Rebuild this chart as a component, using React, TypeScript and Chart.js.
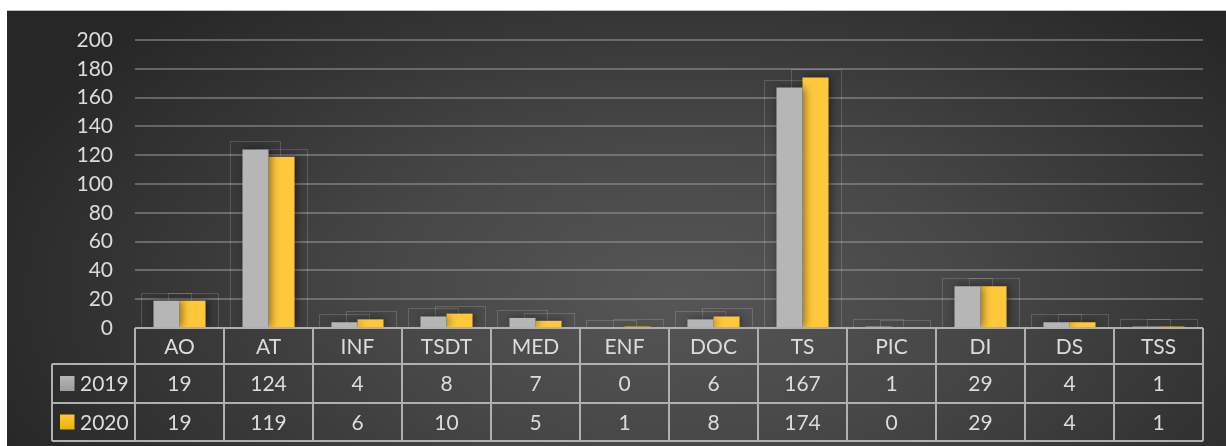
import React, { useEffect, useRef } from "react";
import { Chart, registerables } from "chart.js";

Chart.register(...registerables);

const categories = ["AO", "AT", "INF", "TSDT", "MED", "ENF", "DOC", "TS", "PIC", "DI", "DS", "TSS"];
const series2019 = [19, 124, 4, 8, 7, 0, 6, 167, 1, 29, 4, 1];
const series2020 = [19, 119, 6, 10, 5, 1, 8, 174, 0, 29, 4, 1];
const seriesNames = ["2019", "2020"];
const yTicks = [0, 20, 40, 60, 80, 100, 120, 140, 160, 180, 200];

const FONT = "Lato, 'Open Sans', sans-serif";
const TEXT = "#dcdcdc";
const LINE = "#b0b0b0";

const gradStops = [
  ["#b6b6b6", "#aaaaaa", "#9b9b9b"],
  ["#ffc83b", "#ffc000", "#e8b500"],
];

const barStylePlugin = {
  id: "barStyle",
  beforeDatasetsDraw(chart: any) {
    const ctx = chart.ctx;
    const base = chart.scales.y.getPixelForValue(0);
    ctx.save();
    ctx.strokeStyle = "rgba(255,255,255,0.16)";
    ctx.lineWidth = 1;
    chart.data.datasets.forEach((_: any, di: number) => {
      const meta = chart.getDatasetMeta(di);
      meta.data.forEach((el: any) => {
        const w = el.width;
        const x0 = el.x - w / 2 - 12;
        const top = Math.min(el.y, base) - 8;
        ctx.strokeRect(Math.round(x0) + 0.5, Math.round(top) + 0.5, Math.round(w + 24), Math.round(base - top));
      });
    });
    ctx.restore();
    chart.data.datasets.forEach((_: any, di: number) => {
      const meta = chart.getDatasetMeta(di);
      meta.data.forEach((el: any) => {
        const top = Math.min(el.y, base - 1);
        const g = ctx.createLinearGradient(0, top, 0, base);
        g.addColorStop(0, gradStops[di][0]);
        g.addColorStop(0.35, gradStops[di][1]);
        g.addColorStop(1, gradStops[di][2]);
        el.options.backgroundColor = g;
      });
    });
  },
  beforeDatasetDraw(chart: any) {
    const ctx = chart.ctx;
    ctx.save();
    ctx.shadowColor = "rgba(0,0,0,0.45)";
    ctx.shadowBlur = 8;
    ctx.shadowOffsetX = 2;
    ctx.shadowOffsetY = 0;
  },
  afterDatasetDraw(chart: any) {
    chart.ctx.restore();
  },
};

const tablePlugin = {
  id: "dataTable",
  afterDraw(chart: any) {
    const ctx = chart.ctx;
    const xs = chart.scales.x;
    const area = chart.chartArea;
    const n = categories.length;
    const colW = (area.right - area.left) / n;
    const y0 = area.bottom;
    const y1 = y0 + 36;
    const y2 = y1 + 39;
    const y3 = y2 + 38;
    const legendLeft = 52;
    ctx.save();
    ctx.strokeStyle = LINE;
    ctx.lineWidth = 2;
    ctx.beginPath();
    ctx.moveTo(area.left, y0);
    ctx.lineTo(area.right, y0);
    [y1, y2, y3].forEach((y) => {
      ctx.moveTo(legendLeft, y);
      ctx.lineTo(area.right, y);
    });
    for (let i = 0; i <= n; i++) {
      const x = i < n ? xs.getPixelForValue(i) - colW / 2 : xs.getPixelForValue(n - 1) + colW / 2;
      ctx.moveTo(x, y0);
      ctx.lineTo(x, y3);
    }
    ctx.moveTo(legendLeft, y1);
    ctx.lineTo(legendLeft, y3);
    ctx.stroke();

    ctx.fillStyle = TEXT;
    ctx.font = `21px ${FONT}`;
    ctx.textAlign = "center";
    ctx.textBaseline = "middle";
    const rows = [series2019, series2020];
    categories.forEach((c, i) => {
      const cx = xs.getPixelForValue(i);
      ctx.fillText(c, cx, (y0 + y1) / 2 + 1);
      ctx.fillText(String(rows[0][i]), cx, (y1 + y2) / 2 + 1);
      ctx.fillText(String(rows[1][i]), cx, (y2 + y3) / 2 + 1);
    });
    [[y1, y2], [y2, y3]].forEach(([a, b], k) => {
      const mid = (a + b) / 2;
      const g = ctx.createLinearGradient(0, mid - 7.5, 0, mid + 7.5);
      g.addColorStop(0, gradStops[k][0]);
      g.addColorStop(1, gradStops[k][2]);
      ctx.fillStyle = g;
      ctx.fillRect(60, mid - 7.5, 14.5, 15);
      ctx.fillStyle = TEXT;
      ctx.textAlign = "left";
      ctx.fillText(seriesNames[k], 80, mid + 1);
    });
    ctx.restore();
  },
};

export default function App() {
  const ref = useRef<HTMLCanvasElement>(null);
  useEffect(() => {
    if (!ref.current) return;
    const chart = new Chart(ref.current, {
      type: "bar",
      data: {
        labels: categories,
        datasets: [
          { label: seriesNames[0], data: series2019, backgroundColor: "#aaaaaa", borderWidth: 0 },
          { label: seriesNames[1], data: series2020, backgroundColor: "#ffc000", borderWidth: 0 },
        ],
      },
      options: {
        animation: false,
        responsive: false,
        maintainAspectRatio: false,
        layout: { padding: { top: 40, right: 23, bottom: 118, left: 0 } },
        datasets: { bar: { categoryPercentage: 0.585, barPercentage: 1 } },
        plugins: { legend: { display: false }, tooltip: { enabled: false } },
        scales: {
          x: { display: false },
          y: {
            min: 0,
            max: 200,
            afterFit: (s: any) => {
              s.width = 135;
            },
            afterBuildTicks: (s: any) => {
              s.ticks = yTicks.map((v) => ({ value: v }));
            },
            border: { display: false },
            grid: {
              color: (c: any) => (c.tick && c.tick.value === 0 ? "rgba(0,0,0,0)" : "rgba(150,150,150,0.55)"),
              lineWidth: 2,
              drawTicks: false,
            },
            ticks: { color: TEXT, font: { family: FONT, size: 21 }, padding: 22 },
          },
        },
      },
      plugins: [barStylePlugin, tablePlugin],
    });
    return () => chart.destroy();
  }, []);

  return (
    <div style={{ position: "fixed", left: 0, top: 0, width: 1226, height: 446, background: "#fff", overflow: "hidden" }}>
      <div
        style={{
          position: "absolute",
          left: 7,
          top: 10,
          width: 1219,
          height: 436,
          borderTop: "1px solid #bdbdbd",
          boxSizing: "border-box",
          background:
            "radial-gradient(ellipse 60% 90% at 55% 65%, #565656 0%, #474747 40%, #343434 75%, #272727 100%)",
        }}
      />
      <canvas ref={ref} width={1226} height={446} style={{ position: "absolute", left: 0, top: 0 }} />
    </div>
  );
}
